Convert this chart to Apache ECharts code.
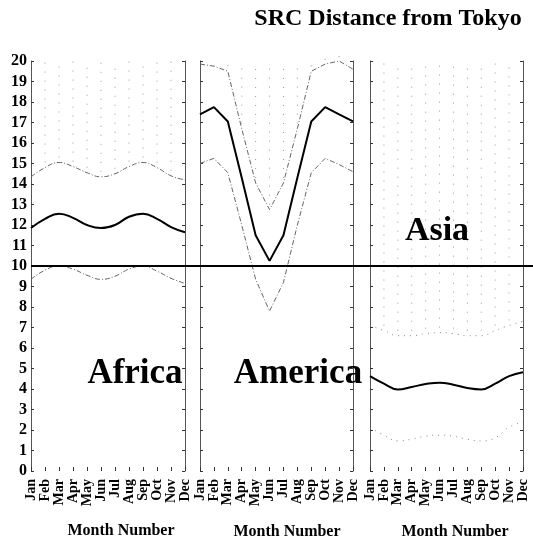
<!DOCTYPE html>
<html><head><meta charset="utf-8">
<script src="https://cdn.jsdelivr.net/npm/echarts@6/dist/echarts.min.js"></script>
<style>html,body{margin:0;padding:0;background:#fff}#c{width:533px;height:544px}</style>
</head><body><div id="c"></div>
<script>
const months = ['Jan','Feb','Mar','Apr','May','Jun','Jul','Aug','Sep','Oct','Nov','Dec'];
const yTicks = [0,1,2,3,4,5,6,7,8,9,10,11,12,13,14,15,16,17,18,19,20];
const regions = ['Africa','America','Asia'];
const africaMean  = [11.85, 12.3, 12.55, 12.35, 12.0, 11.85, 12.0, 12.4, 12.55, 12.3, 11.9, 11.65];
const africaUpper = [14.35, 14.8, 15.05, 14.85, 14.55, 14.35, 14.5, 14.85, 15.05, 14.8, 14.4, 14.2];
const africaLower = [9.35, 9.8, 10.0, 9.85, 9.55, 9.35, 9.5, 9.85, 10.0, 9.75, 9.4, 9.15];
const americaMean  = [17.4, 17.75, 17.05, 14.3, 11.5, 10.25, 11.5, 14.3, 17.05, 17.75, 17.4, 17.05];
const americaUpper = [19.85, 19.75, 19.5, 16.7, 14.05, 12.75, 14.05, 16.7, 19.5, 19.85, 20.0, 19.6];
const americaLower = [15.0, 15.25, 14.55, 12.0, 9.35, 7.8, 9.2, 12.0, 14.55, 15.25, 14.95, 14.6];
const asiaMean  = [4.63, 4.26, 3.98, 4.1, 4.24, 4.31, 4.21, 4.05, 3.98, 4.26, 4.63, 4.82];
const asiaUpper = [7.1, 6.85, 6.6, 6.6, 6.7, 6.75, 6.7, 6.6, 6.6, 6.85, 7.1, 7.3];
const asiaLower = [2.12, 1.75, 1.47, 1.55, 1.7, 1.75, 1.7, 1.55, 1.47, 1.62, 2.14, 2.4];
const refLevel = 10;

const FONT = '"Liberation Serif", "DejaVu Serif", serif';
const chart = echarts.init(document.getElementById('c'), null, {renderer: 'canvas'});

const panels = [
  {left: 31, width: 154, mean: africaMean, upper: africaUpper, lower: africaLower, smooth: 0.45, bandType: [5,2,1,2], bandColor: '#666'},
  {left: 200, width: 153, mean: americaMean, upper: americaUpper, lower: americaLower, smooth: false, bandType: [5,2,1,2], bandColor: '#666'},
  {left: 370, width: 153, mean: asiaMean, upper: asiaUpper, lower: asiaLower, smooth: 0.45, bandType: [1,5], bandColor: '#888'}
];
const TOP = 61, HEIGHT = 410;

const grid = [], xAxis = [], yAxis = [], series = [];
panels.forEach((p, i) => {
  grid.push({left: p.left, width: p.width, top: TOP, height: HEIGHT, containLabel: false});
  xAxis.push({
    type: 'category', gridIndex: i, data: months, boundaryGap: false,
    axisLine: {show: false},
    axisTick: {show: true, inside: true, length: 4, alignWithLabel: true, interval: 0, lineStyle: {color: '#333'}},
    axisLabel: {interval: 0, rotate: 90, margin: 8, fontFamily: FONT, fontWeight: 'bold', fontSize: 14, color: '#000'},
    splitLine: {show: false}
  });
  yAxis.push({
    type: 'value', gridIndex: i, min: 0, max: 20, interval: 1, position: 'left',
    axisLine: {show: true, lineStyle: {color: '#555', width: 1}},
    axisTick: {show: true, inside: true, length: 3, lineStyle: {color: '#333'}},
    axisLabel: {show: i === 0, margin: 4, fontFamily: FONT, fontWeight: 'bold', fontSize: 16, color: '#000',
      formatter: v => yTicks.indexOf(v) >= 0 ? String(v) : ''},
    splitLine: {show: false}
  });
  yAxis.push({
    type: 'value', gridIndex: i, min: 0, max: 20, interval: 1, position: 'right',
    axisLine: {show: true, lineStyle: {color: '#555', width: 1}},
    axisTick: {show: true, inside: true, length: 3, lineStyle: {color: '#333'}},
    axisLabel: {show: false}, splitLine: {show: false}
  });
  const yIdx = i * 2;
  series.push({
    type: 'custom', xAxisIndex: i, yAxisIndex: yIdx, silent: true, z: 1,
    data: p.upper.map((v, k) => [k, v]),
    renderItem: (params, api) => {
      const k = api.value(0);
      if (k === 0 || k === 11) return null;
      const a = api.coord([k, api.value(1)]);
      const b = api.coord([k, 20]);
      return {type: 'line', shape: {x1: a[0], y1: a[1] - 5, x2: b[0], y2: b[1]},
        style: {stroke: '#999', lineWidth: 1, lineDash: [1, 8]}};
    }
  });
  series.push({type: 'line', xAxisIndex: i, yAxisIndex: yIdx, data: p.upper, smooth: p.smooth, symbol: 'none',
    lineStyle: {color: p.bandColor, width: 1, type: p.bandType}, z: 2});
  series.push({type: 'line', xAxisIndex: i, yAxisIndex: yIdx, data: p.lower, smooth: p.smooth, symbol: 'none',
    lineStyle: {color: p.bandColor, width: 1, type: p.bandType}, z: 2});
  series.push({type: 'line', xAxisIndex: i, yAxisIndex: yIdx, data: p.mean, smooth: p.smooth, symbol: 'none',
    lineStyle: {color: '#000', width: 2}, z: 3});
});
grid.push({left: 31, right: 0, top: TOP, height: HEIGHT});
xAxis.push({type: 'value', gridIndex: 3, min: 0, max: 1, show: false});
yAxis.push({type: 'value', gridIndex: 3, min: 0, max: 20, show: false});
series.push({type: 'line', xAxisIndex: 3, yAxisIndex: yAxis.length - 1, data: [[0, null]], symbol: 'none', z: 5,
  markLine: {silent: true, symbol: 'none', label: {show: false},
    lineStyle: {color: '#000', width: 2, type: 'solid'}, data: [{yAxis: refLevel}]}});

const txt = (x, y, s, size) => ({type: 'text', x: x, y: y, z: 10,
  style: {text: s, fontFamily: FONT, fontWeight: 'bold', fontSize: size, fill: '#000', align: 'center', verticalAlign: 'middle'}});

chart.setOption({
  animation: false,
  backgroundColor: '#fff',
  grid, xAxis, yAxis, series,
  graphic: [
    txt(388, 19, 'SRC Distance from Tokyo', 24),
    txt(135, 374, regions[0], 35),
    txt(298, 374, regions[1], 35),
    txt(437, 231, regions[2], 34),
    txt(121, 531, 'Month Number', 16),
    txt(287, 532, 'Month Number', 16),
    txt(455, 532, 'Month Number', 16)
  ]
});
</script></body></html>
